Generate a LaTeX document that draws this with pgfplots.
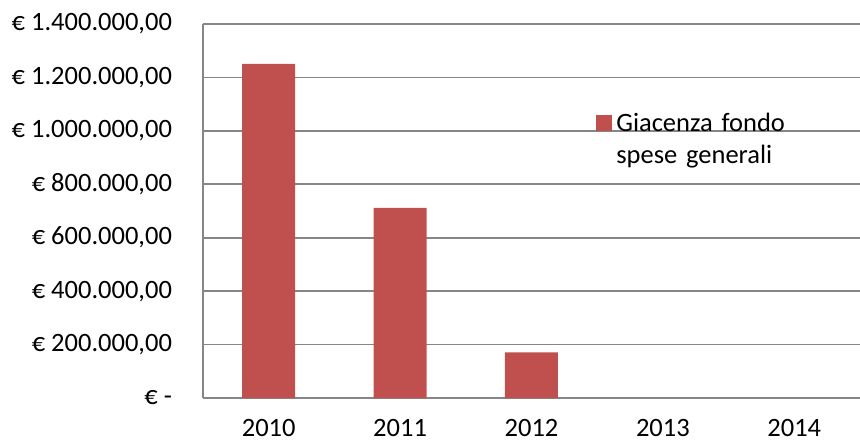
\documentclass[border=0pt]{standalone}
\usepackage{pgfplots}
\pgfplotsset{compat=1.18}
\usepackage{fontspec}
\setmainfont{Carlito}
\definecolor{barred}{HTML}{C0504D}
\definecolor{gridgray}{HTML}{868686}
\begin{document}
\begin{tikzpicture}
\begin{axis}[
  scale only axis,
  width=328.5bp, height=187bp,
  xmin=-0.5, xmax=4.5,
  ymin=0, ymax=1400000,
  ytick={0,200000,400000,600000,800000,1000000,1200000,1400000},
  yticklabels={{€ -\hspace{4bp}},{€ 200.000,00},{€ 400.000,00},{€ 600.000,00},{€ 800.000,00},{€ 1.000.000,00},{€ 1.200.000,00},{€ 1.400.000,00}},
  xtick={0,1,2,3,4},
  xticklabels={2010,2011,2012,2013,2014},
  ymajorgrids,
  major grid style={gridgray, line width=0.8bp},
  axis line style={gridgray, line width=0.8bp},
  axis x line*=bottom,
  axis y line*=left,
  separate axis lines,
  major tick length=0pt,
  tick style={draw=none},
  tick label style={font=\fontsize{13.3}{16}\selectfont, black},
  yticklabel style={xshift=-12bp},
  xticklabel style={yshift=-7bp},
  scaled y ticks=false,
  ybar,
  bar width=26.5bp,
  legend style={draw=none, fill=none, at={(0.598,0.762)}, anchor=north west,
    font=\fontsize{13.3}{16}\selectfont, inner sep=0pt,
    nodes={text width=100bp, align=left, inner sep=0pt}},
  legend image code/.code={\fill[barred] (0bp,-3.5bp) rectangle (8bp,4.5bp); \path (0bp,0bp) -- (10bp,0bp);},
  clip=false,
]
\addplot[fill=barred, draw=none] coordinates {(0,1251000) (1,712000) (2,171000)};
\addlegendentry{Giacenza fondo\\spese generali}
\draw[gridgray, line width=0.8bp] (rel axis cs:0,1) -- (rel axis cs:1,1);
\end{axis}
\pgfresetboundingbox
\path (current axis.south west) ++(-101.5bp,-21.5bp) coordinate (bl);
\path (current axis.north east) ++(0bp,12bp) coordinate (tr);
\path (bl) rectangle (tr);
\end{tikzpicture}
\end{document}
